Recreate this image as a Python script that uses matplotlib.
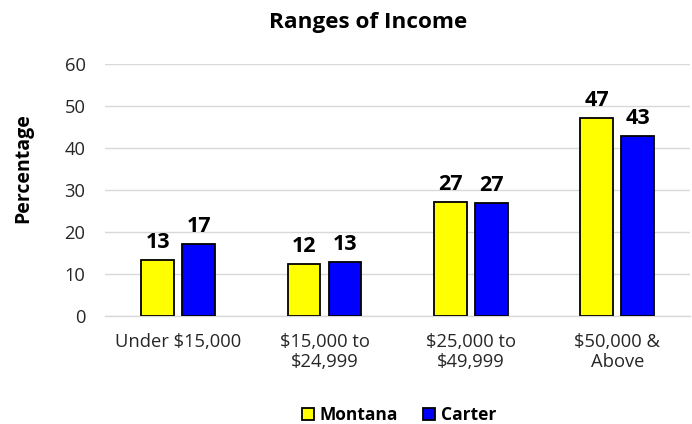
import matplotlib
matplotlib.use("Agg")
import matplotlib.pyplot as plt
import numpy as np

categories = ["Under \\$15,000", "\\$15,000 to\n\\$24,999", "\\$25,000 to\n\\$49,999", "\\$50,000 &\nAbove"]
montana = [13.3, 12.5, 27.1, 47.1]
carter = [17.1, 12.9, 27.0, 42.9]
montana_labels = ["13", "12", "27", "47"]
carter_labels = ["17", "13", "27", "43"]
yticks = [0, 10, 20, 30, 40, 50, 60]

plt.rcParams['font.family'] = ['Open Sans', 'DejaVu Sans']

fig = plt.figure(figsize=(6.92, 4.24), dpi=100)
ax = fig.add_axes([0.1517, 0.2547, 0.846, 0.5943])

x = np.arange(len(categories))
w = 0.225
off = 0.14
b1 = ax.bar(x - off, montana, w, color="#FFFF00", edgecolor="black", linewidth=1.3, label="Montana", zorder=3)
b2 = ax.bar(x + off, carter, w, color="#0000FF", edgecolor="black", linewidth=1.3, label="Carter", zorder=3)

for bars, labs in ((b1, montana_labels), (b2, carter_labels)):
    for r, t in zip(bars, labs):
        ax.text(r.get_x() + r.get_width() / 2, r.get_height() + 2.8, t, ha="center", va="baseline",
                fontsize=15.5, fontweight="bold", color="black")

ax.set_xlim(-0.5, 3.5)
ax.set_ylim(0, 60)
ax.set_yticks(yticks)
ax.set_yticklabels([str(v) for v in yticks], fontsize=13.2, color="#262626")
ax.set_xticks(x)
ax.set_xticklabels(categories, fontsize=13.2, color="#262626")
ax.tick_params(axis="x", length=0, pad=12)
ax.tick_params(axis="y", length=0, pad=14)
ax.grid(axis="y", color="#d9d9d9", linewidth=1.0, zorder=0)
for s in ["top", "right", "left"]:
    ax.spines[s].set_visible(False)
ax.spines["bottom"].set_color("#d9d9d9")
ax.spines["bottom"].set_linewidth(1.0)

fig.text(0.0332, 0.604, "Percentage", rotation=90, ha="center", va="center", fontsize=14, fontweight="bold")

fig.text(0.532, 0.934, "Ranges of Income", ha="center", va="baseline", fontsize=16.2, fontweight="bold")

leg = fig.legend(handles=[b1, b2], labels=["Montana", "Carter"], loc="center", bbox_to_anchor=(0.5766, 0.021),
                 ncol=2, frameon=False, prop={"size": 12.5, "weight": "bold"},
                 handlelength=0.69, handleheight=0.69, handletextpad=0.35, columnspacing=1.44,
                 borderpad=0.1)

fig.savefig("out.png", dpi=100)
